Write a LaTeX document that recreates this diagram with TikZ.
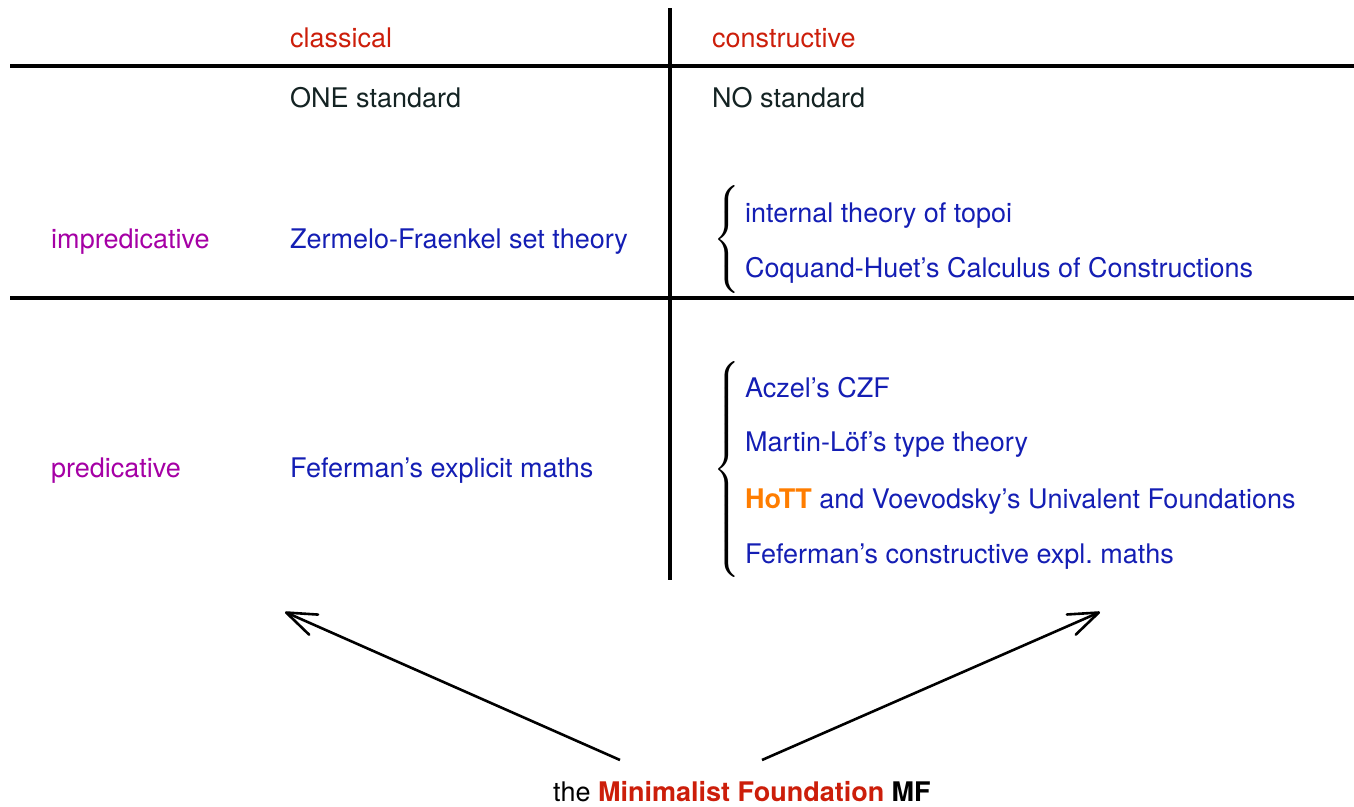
\documentclass[tikz,border=0pt]{standalone}
\usepackage{fontspec}
\setmainfont{TeX Gyre Heros}
\usetikzlibrary{arrows.meta}
\definecolor{hred}{RGB}{204,30,10}
\definecolor{hblue}{RGB}{20,30,180}
\definecolor{hpurple}{RGB}{165,0,165}
\definecolor{horange}{RGB}{255,125,0}
\definecolor{hdark}{RGB}{20,35,35}
\begin{document}
\begin{tikzpicture}[x=1pt,y=-1pt,
  every node/.style={inner sep=0pt,font=\fontsize{27}{31}\selectfont},
  lbl/.style={anchor=base west},
  head/.style={lbl,text=hred},
  rowlbl/.style={lbl,text=hpurple},
  entry/.style={lbl,text=hblue},
  plain/.style={lbl,text=hdark},
  rule/.style={line width=3.5pt},
  arr/.style={line width=2.6pt,-{Straight Barb[length=30pt,width=22pt,line width=2.6pt,round]}},
  brace/.style={inner sep=0pt,scale=3,font=\normalsize}]
\useasboundingbox (0,0) rectangle (1354,806);
% grid lines
\draw[rule] (10,66) -- (1354,66);
\draw[rule] (10,298) -- (1354,298);
\draw[rule] (670,8) -- (670,580);
% headers
\node[head] (hcl) at (290,47) {classical};
\node[head] (hco) at (712,47) {constructive};
\node[plain] (one) at (290,107) {ONE standard};
\node[plain] (no) at (712,107) {NO standard};
% row labels
\node[rowlbl] (imp) at (51,248) {impredicative};
\node[rowlbl] (pre) at (51,477) {predicative};
% classical entries
\node[entry] (zf) at (290,248) {Zermelo-Fraenkel set theory};
\node[entry] (fem) at (290,477) {Feferman's explicit maths};
% braces
\node[brace] (b1) at (729,239) {$\left\{\vcenter{\hbox{\rule{0pt}{39pt}}}\right.$};
\node[brace] (b2) at (729,469) {$\left\{\vcenter{\hbox{\rule{0pt}{72.5pt}}}\right.$};
% constructive entries
\node[entry] (top) at (745,222) {internal theory of topoi};
\node[entry] (coc) at (745,277) {Coquand-Huet's Calculus of Constructions};
\node[entry] (czf) at (745,397) {Aczel's CZF};
\node[entry] (mltt) at (745,451) {Martin-L\"of's type theory};
\node[entry] (hott) at (745,508) {\textcolor{horange}{\textbf{HoTT}} and Voevodsky's Univalent Foundations};
\node[entry] (fcm) at (745,563) {Feferman's constructive expl.\ maths};
% bottom
\node[lbl] (mf) at (553,801) {the \textcolor{hred}{\textbf{Minimalist Foundation}} \textbf{MF}};
\coordinate (s1) at (620,760);
\coordinate (s2) at (762,760);
\coordinate (e1) at (285,612);
\coordinate (e2) at (1100,612);
\draw[arr] (s1) -- (e1);
\draw[arr] (s2) -- (e2);
\end{tikzpicture}
\end{document}
